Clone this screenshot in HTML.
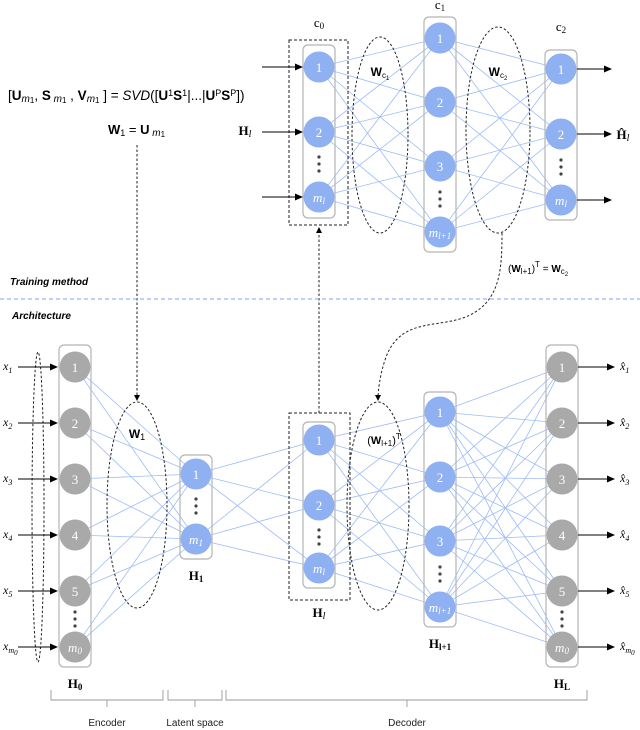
<!DOCTYPE html>
<html><head><meta charset="utf-8">
<style>
html,body{margin:0;padding:0;background:#fff;}
svg{display:block;}
text{font-family:"Liberation Sans",sans-serif;}
.serif{font-family:"Liberation Serif",serif;}
</style></head>
<body>
<svg id="s" width="640" height="730" viewBox="0 0 640 730" xmlns="http://www.w3.org/2000/svg">
<defs>
<marker id="ah" markerWidth="8" markerHeight="8" refX="7" refY="4" orient="auto" markerUnits="userSpaceOnUse"><path d="M0,0.5 L8,4 L0,7.5 z" fill="#000"/></marker>
<marker id="ahs" markerWidth="6" markerHeight="6" refX="5" refY="3" orient="auto" markerUnits="userSpaceOnUse"><path d="M0,0 L6,3 L0,6 z" fill="#000"/></marker>
</defs>
<g id="lines" stroke="#9dbcf5" stroke-width="0.8"></g>
<g id="fg"></g>
</svg>
<script>
var NS="http://www.w3.org/2000/svg";
var L=document.getElementById('lines'),G=document.getElementById('fg');
function el(p,tag,a,txt){var e=document.createElementNS(NS,tag);for(var k in a)e.setAttribute(k,a[k]);if(txt!==undefined)e.innerHTML=txt;p.appendChild(e);return e;}
function conn(x1,ys1,x2,ys2){ys1.forEach(function(a){ys2.forEach(function(b){el(L,'line',{x1:x1,y1:a,x2:x2,y2:b});});});}
var H0=[367,423,479,535,591,647], H1=[474,539], Hl=[440,505,568], Hl1=[412,477,541,607], HL=H0;
var C0=[67,132,197], C1=[38,102,166,232], C2=[69,134,200];
conn(75,H0,196,H1);conn(196,H1,319,Hl);conn(319,Hl,440,Hl1);conn(440,Hl1,562,HL);
conn(319,C0,440,C1);conn(440,C1,561,C2);
function col(x,y1,y2){el(G,'rect',{x:x-16,y:y1,width:32,height:y2-y1,rx:5,fill:'none',stroke:'#b5b5b5','stroke-width':1.2});}
function node(x,y,lab,gray,it){el(G,'circle',{cx:x,cy:y,r:15.5,fill:gray?'#a9a9a9':'#8fb1f2'});
 el(G,'text',{x:x,y:y+5,'text-anchor':'middle','font-size':13,fill:'#fff','class':'serif','font-style':it?'italic':'normal'},lab);}
function dots(x,y){[-7,0,7].forEach(function(d){el(G,'circle',{cx:x,cy:y+d,r:1.6,fill:'#444'});});}
col(75,345,667);col(196,455,559);col(319,422,588);col(440,392,627);col(562,345,667);
col(319,45,218);col(440,17,252);col(561,50,220);
var lb0=['1','2','3','4','5','m<tspan font-size="9" dy="2">0</tspan>'];
H0.forEach(function(y,i){node(75,y,lb0[i],true,i==5);node(562,y,lb0[i],true,i==5);});
dots(75,619);dots(562,619);
node(196,474,'1');node(196,539,'m<tspan font-size="9" dy="2">1</tspan>',false,true);dots(196,506);
node(319,440,'1');node(319,505,'2');node(319,568,'m<tspan font-size="9" dy="2">l</tspan>',false,true);dots(319,537);
node(440,412,'1');node(440,477,'2');node(440,541,'3');node(440,607,'m<tspan font-size="9" dy="2">l+1</tspan>',false,true);dots(440,574);
node(319,67,'1');node(319,132,'2');node(319,197,'m<tspan font-size="9" dy="2">l</tspan>',false,true);dots(319,164);
node(440,38,'1');node(440,102,'2');node(440,166,'3');node(440,232,'m<tspan font-size="9" dy="2">l+1</tspan>',false,true);dots(440,199);
node(561,69,'1');node(561,134,'2');node(561,200,'m<tspan font-size="9" dy="2">l</tspan>',false,true);dots(561,167);
var dsh={fill:'none',stroke:'#222','stroke-width':1,'stroke-dasharray':'2.5,2'};
function ell(cx,cy,rx,ry){var a=Object.assign({cx:cx,cy:cy,rx:rx,ry:ry},dsh);el(G,'ellipse',a);}
ell(38,507,6,155);ell(137,505,30,103);ell(378,506,31,104);ell(380,135,28,98);ell(498,130,32,103);
el(G,'rect',Object.assign({x:289,y:413,width:61,height:187},dsh,{'stroke-dasharray':'3,2'}));
el(G,'rect',Object.assign({x:289,y:40,width:59,height:185},dsh,{'stroke-dasharray':'3,2'}));
el(G,'path',Object.assign({d:'M137,145 L137,400','marker-end':'url(#ahs)'},dsh));
el(G,'path',Object.assign({d:'M319,413 L319,228','marker-end':'url(#ahs)'},dsh));
el(G,'path',Object.assign({d:'M502,233 C502,270 500,300 470,315 C440,330 400,315 385,360 C380,375 378,390 378,400','marker-end':'url(#ahs)'},dsh));
el(G,'line',{x1:0,y1:299,x2:640,y2:299,stroke:'#7aa6ee','stroke-width':1,'stroke-dasharray':'4,3'});
var xl=['1','2','3','4','5','m<tspan font-size="7" dy="2">0</tspan>'];
H0.forEach(function(y,i){el(G,'line',{x1:18,y1:y,x2:57,y2:y,stroke:'#000','stroke-width':1.1,'marker-end':'url(#ah)'});
 el(G,'text',{x:3,y:y+3,'font-size':12,'font-style':'italic','class':'serif'},'x<tspan font-size="8" dy="3">'+xl[i]+'</tspan>');
 el(G,'line',{x1:578,y1:y,x2:614,y2:y,stroke:'#000','stroke-width':1.1,'marker-end':'url(#ah)'});
 el(G,'text',{x:620,y:y+3,'font-size':12,'font-style':'italic','class':'serif'},'x̂<tspan font-size="8" dy="3">'+xl[i]+'</tspan>');});
[67,132,197].forEach(function(y){el(G,'line',{x1:262,y1:y,x2:302,y2:y,stroke:'#000','stroke-width':1.1,'marker-end':'url(#ah)'});});
[69,134,200].forEach(function(y){el(G,'line',{x1:577,y1:y,x2:611,y2:y,stroke:'#000','stroke-width':1.1,'marker-end':'url(#ah)'});});
function t(x,y,s,a){var o=Object.assign({x:x,y:y,'font-size':12},a||{});el(G,'text',o,s);}
var bs={'class':'serif','font-weight':'bold','font-size':13,'text-anchor':'middle'};
t(75,688,'H<tspan font-size="9" dy="2">0</tspan>',bs);t(196,580,'H<tspan font-size="9" dy="2">1</tspan>',bs);
t(319,617,'H<tspan font-size="10" dy="2" font-style="italic" font-weight="normal">l</tspan>',bs);
t(440,648,'H<tspan font-size="9" dy="2">l+1</tspan>',bs);t(562,688,'H<tspan font-size="9" dy="2">L</tspan>',bs);
t(245,135,'H<tspan font-size="10" dy="2" font-style="italic" font-weight="normal">l</tspan>',bs);
t(623,139,'Ĥ<tspan font-size="10" dy="2" font-style="italic" font-weight="normal">l</tspan>',bs);
var ss={'class':'serif','font-size':13,'text-anchor':'middle'};
t(319,27,'c<tspan font-size="9" dy="2">0</tspan>',ss);t(440,9,'c<tspan font-size="9" dy="2">1</tspan>',ss);t(561,31,'c<tspan font-size="9" dy="2">2</tspan>',ss);
t(137,438,'<tspan font-weight="bold">W</tspan><tspan font-size="9" dy="2">1</tspan>',{'text-anchor':'middle'});
t(380,76,'<tspan font-weight="bold">W</tspan><tspan font-size="8" dy="2">c</tspan><tspan font-size="6" dy="2">1</tspan>',{'text-anchor':'middle'});
t(498,76,'<tspan font-weight="bold">W</tspan><tspan font-size="8" dy="2">c</tspan><tspan font-size="6" dy="2">2</tspan>',{'text-anchor':'middle'});
t(384,444,'(<tspan font-weight="bold">W</tspan><tspan font-size="8" dy="2">l+1</tspan><tspan dy="-2">)</tspan><tspan font-size="8" dy="-5">T</tspan>',{'text-anchor':'middle','font-size':11});
t(508,272,'(<tspan font-weight="bold">W</tspan><tspan font-size="8" dy="2">l+1</tspan><tspan dy="-2">)</tspan><tspan font-size="8" dy="-5">T</tspan><tspan dy="5"> = </tspan><tspan font-weight="bold">W</tspan><tspan font-size="8" dy="2">c</tspan><tspan font-size="6" dy="2">2</tspan>',{'text-anchor':'start','font-size':10});
t(8,100,'[<tspan font-weight="bold">U</tspan><tspan font-size="10" font-style="italic" dy="2">m</tspan><tspan font-size="8" dy="1">1</tspan><tspan dy="-3">, </tspan><tspan font-weight="bold">S</tspan><tspan font-size="10" font-style="italic" dy="2"> m</tspan><tspan font-size="8" dy="1">1</tspan><tspan dy="-3"> , </tspan><tspan font-weight="bold">V</tspan><tspan font-size="10" font-style="italic" dy="2">m</tspan><tspan font-size="8" dy="1">1</tspan><tspan dy="-3"> ] = </tspan><tspan font-style="italic">SVD</tspan>([<tspan font-weight="bold">U</tspan><tspan font-size="9" dy="-4">1</tspan><tspan font-weight="bold" dy="4">S</tspan><tspan font-size="9" dy="-4">1</tspan><tspan dy="4">|...|</tspan><tspan font-weight="bold">U</tspan><tspan font-size="9" dy="-4">P</tspan><tspan font-weight="bold" dy="4">S</tspan><tspan font-size="9" dy="-4">P</tspan><tspan dy="4">])</tspan>',{'font-size':13.5});
t(108,134,'<tspan font-weight="bold">W</tspan><tspan font-size="9" dy="2">1</tspan><tspan dy="-2"> = </tspan><tspan font-weight="bold">U</tspan><tspan font-size="10" font-style="italic" dy="2"> m</tspan><tspan font-size="8" dy="1">1</tspan>',{'font-size':13});
t(10,285,'Training method',{'font-size':10,'font-weight':'bold','font-style':'italic'});
t(12,319,'Architecture',{'font-size':10,'font-weight':'bold','font-style':'italic'});
var bst={fill:'none',stroke:'#999','stroke-width':0.9};
el(G,'path',Object.assign({d:'M51,690 L51,700 L163,700 L163,690 M107,700 L107,707'},bst));
el(G,'path',Object.assign({d:'M168,690 L168,700 L222,700 L222,690 M195,700 L195,707'},bst));
el(G,'path',Object.assign({d:'M226,690 L226,700 L587,700 L587,690 M407,700 L407,707'},bst));
var ls={'font-size':10,'text-anchor':'middle',fill:'#222'};
t(107,726,'Encoder',ls);t(195,726,'Latent space',ls);t(407,726,'Decoder',ls);
</script>
</body></html>
